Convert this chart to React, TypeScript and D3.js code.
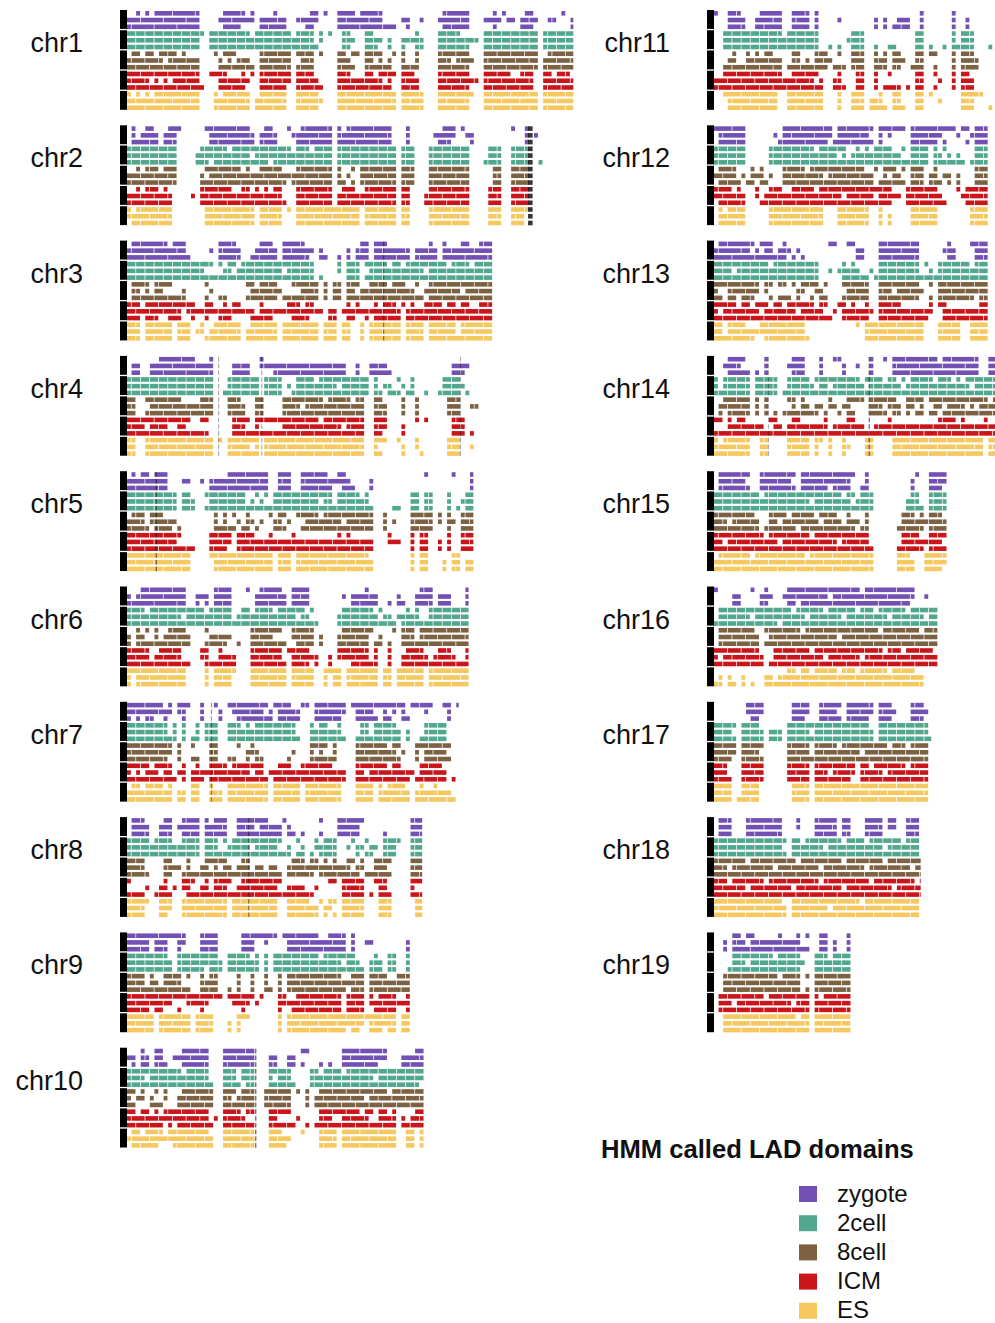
import React from "react";
import * as d3 from "d3";

// chromosome names and lengths (Mb)
const CHROMS = ["chr1","chr2","chr3","chr4","chr5","chr6","chr7","chr8","chr9","chr10",
  "chr11","chr12","chr13","chr14","chr15","chr16","chr17","chr18","chr19"];
const CHROM_MB = [195.5,182.1,160.0,156.5,151.8,149.7,145.4,129.4,124.6,130.7,
  122.1,120.1,120.4,124.9,104.0,98.2,95.3,90.7,61.4];

const STAGES = ["zygote","2cell","8cell","ICM","ES"];
const STAGE_COLORS = ["#7350B3","#52A88E","#7C6242","#CA161B","#F6C860"];
// how many bins a drawn segment spans at most before a thin break (segment edges)
const STAGE_SEG_BINS = [5, 2, 3, 3, 4];

// LAD calls in 2 Mb bins. one digit per bin, bitmask of the 3 replicate rows
// (1 = top row, 2 = middle row, 4 = bottom row)
const BIN_MB = 2;

const zygote = [
  "6676767777 7777770000 2777732306 6676600226 7301007777 6777774440 2600200027 7777700022 7212206772 00220106",
  "0746776067 7100000177 7777777606 7760012677 7777707677 7777777700 0700000267 7301260000 0000100702 00",
  "6777777776 7774000020 7777600467 7760777776 2064004060 6770777666 6606667607 6667766777",
  "0660066777 7777766670 0006666003 2266666666 6666666600 6006666400 0000000000 066620000",
  "6767767770 0022002066 6677777777 7007770077 7777623764 0006000000 0000010000 010007",
  "6467777777 7770062607 7770001067 7777607777 0000000206 6676600406 4006777066 60007",
  "7373773363 0371007001 6013777777 5617776611 0777777301 7777517531 7411131001 701",
  "0777600677 0277770767 7700777757 7666164040 0050007777 7100004000 00777",
  "7777717771 1730007777 0000077711 3110177777 7766777707 0022000000 060",
  "2607607740 2277777700 0777777700 0660066051 0040400777 7777733000 666770",
  "1007776006 7777700777 7070000200 0000060604 6660070000 0070060000 0",
  "1777777000 0002477777 7777734777 7777507131 1107777773 5112152777",
  "6777777756 5774672424 0000011001 1660007777 7777700000 2760001777",
  "0027775404 0700002777 0007001160 0200700107 7777777776 7777777700 770",
  "0777777500 7777777507 7777737777 1047000000 0006100777 30",
  "1000660010 6720027737 7777757777 7767777777 777300200",
  "0000000377 3000000777 3007777507 7777307772 00077720",
  "0777000777 7777700030 0077777077 0007777033 007770",
  "0060776576 6666766674 50077060070",
];

const twoCell = [
  "7777777777 7777771077 7777777677 7777776777 7430100772 0077620600 6227600077 7776622077 7777777777 07777777",
  "7777777777 7000067737 7767777577 7377776777 6777707777 7777777770 7770007777 7777700047 7700777700 40",
  "7777777777 7777777554 5675677777 7777577777 7040003077 7057777677 6777757777 6777767777",
  "7777777777 7777777770 0477777770 7777024777 7677775777 7770742645 2470040047 777240000",
  "7777777777 7077600577 7777774656 5477777777 7757747777 7674000044 0077077000 704277",
  "7777677777 7757777677 7774677677 7767777576 5400006777 7777656642 6767447777 77777",
  "7777777774 7070470777 0077767677 7777777400 7677667400 4774777776 0600477777 000",
  "7777767777 6677770777 4567777577 7775460560 4367770021 6256207771 00777",
  "7777777776 0777777377 6077777670 7077777777 7767777577 6406760770 070",
  "7777577777 7767777740 0777437700 0757774000 7767777677 7777577777 77773",
  "0077777777 7777767777 7770040402 7770040044 0000770400 4074777000 4",
  "7777777000 0077777777 7767777574 6767677776 6547777076 5646404777",
  "7777577777 7767777777 7770020276 7644247777 7777745647 7777776777",
  "7477777707 7777047777 7657757777 7765777677 6567777767 7767675777 777",
  "7777777777 6777777777 7577777767 5677700000 0067740777 70",
  "4777777757 7777377677 5777677757 7677767757 776777577",
  "7777507777 6066607777 7577777777 7777607777 77777774",
  "7777777777 7777750776 7777577767 7776777577 767770",
  "0004777577 7776777772 00777677770",
];

const eightCell = [
  "6776776757 7676660001 6575666407 7777770577 7010007765 1077574610 7447000077 7577720077 7777777777 06777777",
  "6676777677 7000006577 7777767667 7777626777 7777707425 0777777770 7770007777 7777700000 7700777700 00",
  "0775747755 4460000520 4400005767 7772445577 7707077077 5667777677 7665427777 7775777777",
  "7700577777 7766667770 0077760077 0000777757 7776777776 7700776000 7007000000 777002200",
  "6777437766 2400000007 4745247242 0167520157 7767777577 7777007020 0077777030 720777",
  "6076547467 7776000566 6620400777 7755403777 7060006777 7771460410 7774777777 77777",
  "7777777773 0700540077 0044106364 0000042000 7575470000 7777777675 2007177777 500",
  "7777400077 2247446757 5764677466 4664067776 7367676675 6344777500 00777",
  "7777476477 7745007677 0040700700 7407077777 7777777627 7707777667 770",
  "7523065430 0677777770 0775677700 7777770107 0677777777 7757777677 77777",
  "0046744767 6776604774 6477724540 7770076707 7204770150 0070777600 0",
  "2777742472 7420077777 6777577777 7776614757 6507770674 2606000777",
  "7517737773 0350554163 1536500057 7777007775 7777720507 7777777377",
  "0637777707 0704045747 6462432427 5110777537 6073570573 5777757577 677",
  "7775777776 0477576737 7765777647 6247000000 4777672777 60",
  "0777777776 0577777776 7777777577 7777776777 777776777",
  "7777307777 5000007777 7477777677 7757777767 77677770",
  "7775777677 7775777767 7775777767 7775777677 777577 0",
  "0077777777 7777677770 50777777770",
];

const icm = [
  "7777757575 7777774011 7766672107 7777730777 7640007776 6677675710 7776000077 7777722077 7777667770 07767776",
  "6676777676 0000207777 7776677676 7677400777 7777706777 6677777770 7700067777 7777700007 7700777700 00",
  "7772777337 7713722732 6763322647 6622237767 3220660276 3262767776 1676677776 7767766777",
  "7777577775 5775445500 0007775475 5555777777 7767777577 7700773000 6001010000 077704000",
  "7777777777 7544400077 7730777766 6766667666 6666667676 6666000322 0070770060 700777",
  "7777746777 7744003744 7666000777 7777417777 2600603337 7774700700 6777764677 76447",
  "7575767577 4270676277 7767777577 4267776677 7777766600 7757777677 6624777776 040",
  "5444204674 2037546747 7754677777 7775466664 4200110777 7704177400 00755",
  "7777737733 1513337311 1013373121 0007326777 7777777077 7703677772 270",
  "7767767637 3777777742 0777765500 0775554204 0477755777 7675477670 64677",
  "6677777777 7777766777 7756006740 0770070454 4040770052 0070776000 0",
  "3777676003 4677766777 7767777757 7777757772 2077777776 4001277777",
  "7577767767 5767767757 7767542176 7667207777 7666666301 7666666677",
  "5547677666 6457646776 6666746667 7664466676 6666666667 7776766667 666",
  "7757777777 7677577777 7677777577 7777400000 4777762777 50",
  "7577777777 6047777777 7677577777 7757777677 767777776",
  "7774007777 7000007777 7077757777 3077677577 77677770",
  "7776777577 7677777577 7776777757 7777677775 77776770",
  "0777577777 7677777577 70767777770",
];

const es = [
  "7676767777 7777770007 6777777067 7777700777 7720007777 7777777770 7777700077 7777710077 7777777777 07777777",
  "3677777777 0000000777 7777777707 7777010777 7777777777 7077777770 7700007777 7777700007 7700777100 00",
  "7770777777 0777023467 7777706777 7770777777 7707770770 0707777777 0777707777 7747777777",
  "7700777777 7777777770 1077777570 7777777777 7777777777 7700751001 6003400000 777002000",
  "7777777777 7777000017 7777777777 7707770777 7777777777 7776000000 0070770006 077066",
  "7177777777 7770000707 7771000777 7777707777 7007177077 7777707707 7777707777 77777",
  "6776777767 0660770076 6077777777 7077777707 7777777000 7777076777 7606766766 640",
  "7777100773 0077777777 7707777777 7770077777 6616350777 7700077700 00077",
  "7777770777 7777077770 0060711000 0007077777 7777777737 7317773770 770",
  "2776777323 7777777760 0777777700 0777620010 0077770777 7777777770 07707",
  "0017777777 7777007777 7777000700 7770667407 7400770102 0000777110 4",
  "0767777000 0077777777 7777000777 7777007060 0007777770 0000007777",
  "7747777662 3777777777 4000000000 0107777777 7777770007 7777007777",
  "7677777700 7700007777 7071070072 0007700007 7777777777 7777777770 770",
  "6777777767 7777777777 6777777777 7777700000 7776007777 30",
  "4606406040 0664667767 7677777677 7677777767 777766000",
  "7777047777 0000000777 7077777777 7777777777 77777770",
  "7777777777 7777760777 7777757777 7767777777 777770",
  "0077777777 7777777767 70777777770",
];

const STAGE_DATA = [zygote, twoCell, eightCell, icm, es];

// dark vertical marks (assembly gaps): chromosome index, position Mb, width Mb, opacity
const GAP_CHROM = [1, 2, 3, 3, 3, 4, 6, 7, 9, 13, 13];
const GAP_MB = [175.4, 112, 39.8, 58.7, 145.6, 12.5, 36.7, 53, 56, 67.6, 23.6];
const GAP_W = [2.0, 0.5, 0.5, 0.5, 0.5, 0.6, 0.5, 0.5, 0.6, 0.6, 0.4];
const GAP_OP = [0.85, 0.5, 0.35, 0.35, 0.35, 0.55, 0.45, 0.5, 0.6, 0.55, 0.35];

const W = 995, H = 1323;
const FONT = "'Liberation Sans', Arial, Helvetica, sans-serif";
const PANEL_H = 101;
const PANEL_STEP = 115.3;
const TOP0 = 10;
const COL_X = [127, 714];
const LABEL_X = [83, 670];

const xMb = d3.scaleLinear().domain([0, 195.5]).range([0, 447]);
const rowBand = d3.scaleBand<number>().domain(d3.range(15)).range([0, PANEL_H])
  .paddingInner(0.32).paddingOuter(0.15);

// runs of set bins for one replicate row; long runs get split into segments
function runs(code: string, bit: number, len: number, maxBins: number, phase: number) {
  const s = code.replace(/\s/g, "");
  const out: [number, number][] = [];
  let start = -1;
  for (let i = 0; i <= s.length; i++) {
    const on = i < s.length && (parseInt(s[i], 10) & bit) !== 0;
    const brk = on && start >= 0 && (i + phase) % maxBins === 0;
    if (start >= 0 && (!on || brk)) {
      const a = start * BIN_MB;
      if (a < len) out.push([a, Math.min(i * BIN_MB, len)]);
      start = -1;
    }
    if (on && start < 0) start = i;
  }
  return out;
}

function Panel({ ci }: { ci: number }) {
  const col = ci < 10 ? 0 : 1;
  const k = ci < 10 ? ci : ci - 10;
  const top = TOP0 + k * PANEL_STEP;
  const x0 = COL_X[col];
  const len = CHROM_MB[ci];
  const bw = rowBand.bandwidth();

  const segs: JSX.Element[] = [];
  STAGES.forEach((st, si) => {
    for (let r = 0; r < 3; r++) {
      const y = top + (rowBand(si * 3 + r) as number);
      runs(STAGE_DATA[si][ci], 1 << r, len, STAGE_SEG_BINS[si], r * 2 + ci).forEach(([a, b], j) => {
        segs.push(
          <rect key={`${si}-${r}-${j}`} x={x0 + xMb(a)} y={y}
            width={Math.max(0.8, xMb(b) - xMb(a) - 0.7)} height={bw}
            fill={STAGE_COLORS[si]} />
        );
      });
    }
  });

  const gaps: JSX.Element[] = [];
  GAP_CHROM.forEach((c, gi) => {
    if (c !== ci) return;
    d3.range(15).forEach((r) => {
      gaps.push(
        <rect key={`g${gi}-${r}`} x={x0 + xMb(GAP_MB[gi])} y={top + (rowBand(r) as number)}
          width={Math.max(1, xMb(GAP_W[gi]))} height={bw} fill="#111" opacity={GAP_OP[gi]} />
      );
    });
  });

  return (
    <g>
      <text x={LABEL_X[col]} y={top + 42} textAnchor="end" fontSize={27}
        fontFamily={FONT} fill="#111">{CHROMS[ci]}</text>
      {STAGES.map((st, si) => (
        <rect key={st} x={x0 - 7} y={top + (rowBand(si * 3) as number) - 1}
          width={7} height={18.9} fill="#000" />
      ))}
      {segs}
      {gaps}
    </g>
  );
}

export default function App() {
  return (
    <svg width={W} height={H} style={{ position: "absolute", left: 0, top: 0, background: "#fff" }}>
      <rect width={W} height={H} fill="#fff" />
      {CHROMS.map((c, ci) => <Panel key={c} ci={ci} />)}
      <text x={601} y={1158} fontSize={25.6} fontWeight="bold" fontFamily={FONT} fill="#111">
        HMM called LAD domains
      </text>
      {STAGES.map((st, i) => (
        <g key={st}>
          <rect x={799} y={1186 + i * 29.2} width={18} height={16} fill={STAGE_COLORS[i]} />
          <text x={837} y={1186 + i * 29.2 + 15.5} fontSize={24} fontFamily={FONT} fill="#111">{st}</text>
        </g>
      ))}
    </svg>
  );
}
